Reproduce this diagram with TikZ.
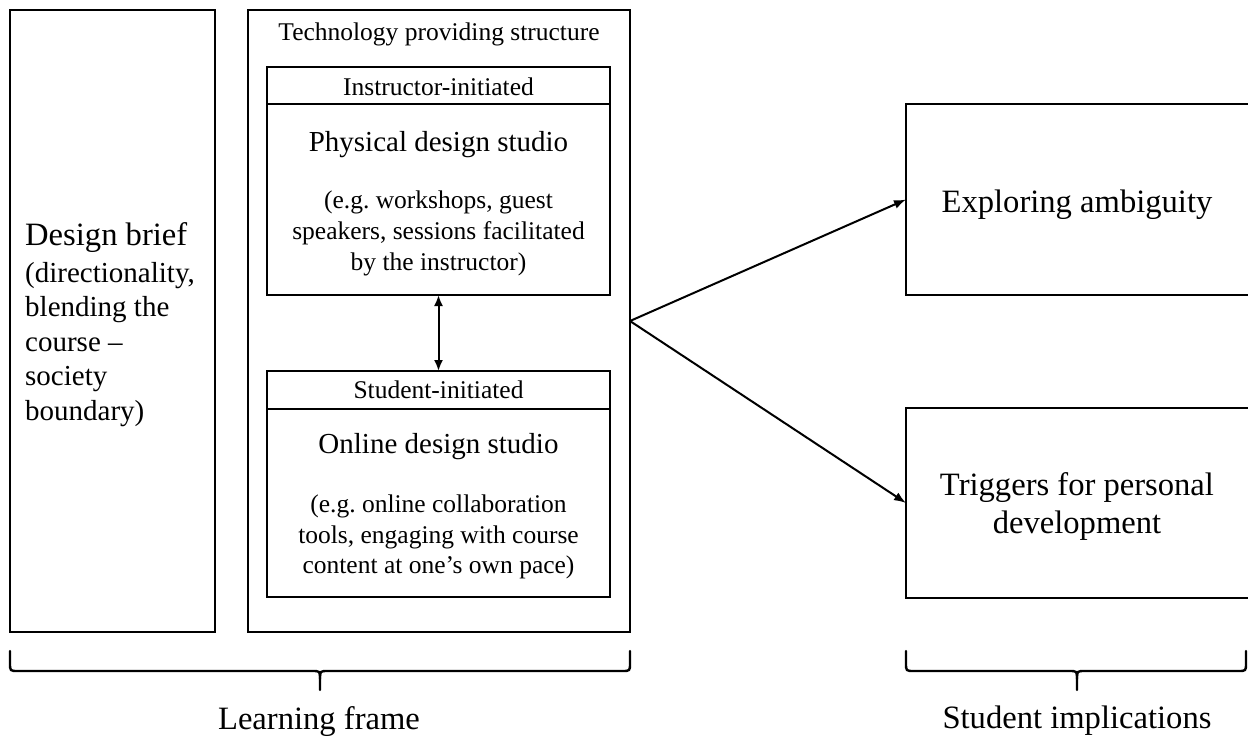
\documentclass[tikz,border=0pt]{standalone}
\usepackage{fontspec}
\setmainfont{Liberation Serif}
\usetikzlibrary{arrows.meta}
\frenchspacing
\newcommand\szS{\fontsize{25.5pt}{31pt}\selectfont}
\newcommand\szM{\fontsize{29pt}{35pt}\selectfont}
\newcommand\szL{\fontsize{32.6pt}{38pt}\selectfont}
\begin{document}
\begin{tikzpicture}[x=1pt,y=-1pt,
  box/.style={draw, line width=2pt, rectangle, inner sep=0pt, outer sep=0pt},
  txt/.style={anchor=base, inner sep=0pt},
  ltxt/.style={anchor=base west, inner sep=0pt},
  divider/.style={line width=2pt},
  arr/.style={line width=2pt, -{Latex[length=12pt,width=9pt]}},
  darr/.style={line width=2pt, {Latex[length=11pt,width=9pt]}-{Latex[length=11pt,width=9pt]}},
  brace/.style={line width=2.4pt, line cap=round, line join=round}]
\useasboundingbox (0,0) rectangle (1248,737);
\fill[white] (0,0) rectangle (1248,737);
\clip (0,0) rectangle (1248,737);

% boxes
\node[box, minimum width=205pt, minimum height=622pt] (brief) at (112.5,321) {};
\node[box, minimum width=382pt, minimum height=622pt] (tech) at (439,321) {};
\node[box, minimum width=343pt, minimum height=228pt] (inst) at (438.5,181) {};
\node[box, minimum width=343pt, minimum height=226pt] (stud) at (438.5,484) {};
\node[box, minimum width=354pt, minimum height=191pt] (expl) at (1083,199.5) {};
\node[box, minimum width=354pt, minimum height=190pt] (trig) at (1083,503) {};

% header dividers
\coordinate (instdiv) at (0,104);
\coordinate (studdiv) at (0,409);
\draw[divider] (inst.west |- instdiv) -- (inst.east |- instdiv);
\draw[divider] (stud.west |- studdiv) -- (stud.east |- studdiv);

% design brief text
\node[ltxt] (db1) at (25,245) {\szL Design brief};
\node[ltxt] (db2) at (25,282) {\szM (directionality,};
\node[ltxt] (db3) at (25,316.5) {\szM blending the};
\node[ltxt] (db4) at (25,351) {\szM course –};
\node[ltxt] (db5) at (25,385.5) {\szM society};
\node[ltxt] (db6) at (25,420) {\szM boundary)};

% technology box text
\node[txt] (techtitle) at (439,40) {\szS Technology providing structure};
\node[txt] (insthead) at (438.5,95) {\szS Instructor-initiated};
\node[txt] (insttitle) at (438.5,151) {\szM Physical design studio};
\node[txt] (inst1) at (438.5,208) {\szS (e.g.\ workshops, guest};
\node[txt] (inst2) at (438.5,239) {\szS speakers, sessions facilitated};
\node[txt] (inst3) at (438.5,270) {\szS by the instructor)};
\node[txt] (studhead) at (438.5,398) {\szS Student-initiated};
\node[txt] (studtitle) at (438.5,453) {\szM Online design studio};
\node[txt] (stud1) at (438.5,512) {\szS (e.g.\ online collaboration};
\node[txt] (stud2) at (438.5,543) {\szS tools, engaging with course};
\node[txt] (stud3) at (438.5,573) {\szS content at one’s own pace)};

% right boxes text
\node[txt] (expltext) at (1077,212) {\szL Exploring ambiguity};
\node[txt] (trig1) at (1077,495) {\szL Triggers for personal};
\node[txt] (trig2) at (1077,533) {\szL development};

% connectors
\draw[darr] (inst.south) -- (stud.north);
\draw[arr] (tech.east) -- (expl.west);
\draw[arr] (tech.east) -- (trig.west);

% braces
\draw[brace] (10,651) -- (10,663) .. controls (10,671) .. (18,671) -- (312,671) .. controls (320,671) .. (320,679) -- (320,690);
\draw[brace] (630,651) -- (630,663) .. controls (630,671) .. (622,671) -- (328,671) .. controls (320,671) .. (320,679);
\draw[brace] (906,651) -- (906,663) .. controls (906,671) .. (914,671) -- (1069,671) .. controls (1077,671) .. (1077,679) -- (1077,690);
\draw[brace] (1246,651) -- (1246,663) .. controls (1246,671) .. (1238,671) -- (1085,671) .. controls (1077,671) .. (1077,679);

% brace labels
\node[txt] (learn) at (319,729) {\szL Learning frame};
\node[txt] (impl) at (1077,728) {\szL Student implications};
\end{tikzpicture}
\end{document}
